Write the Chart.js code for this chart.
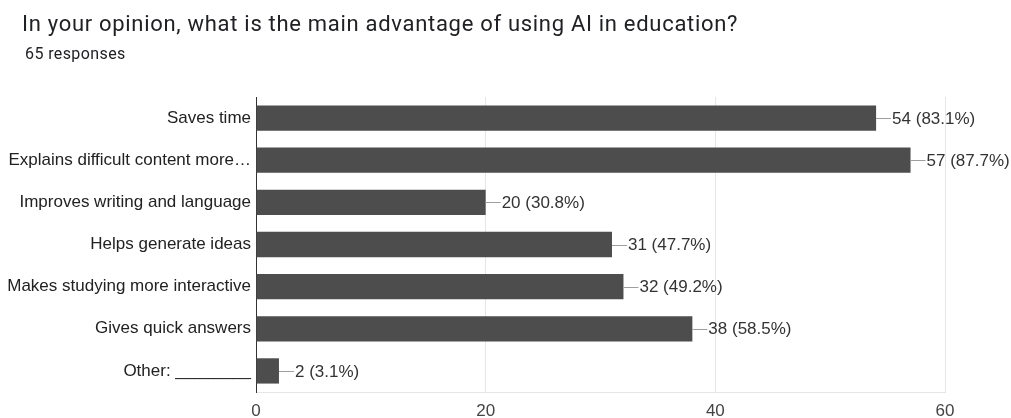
<!DOCTYPE html>
<html>
<head>
<meta charset="utf-8">
<script src="https://cdn.jsdelivr.net/npm/chart.js@4/dist/chart.umd.min.js"></script>
<style>
  html, body { margin: 0; padding: 0; background: #fff; }
  #wrap { position: relative; width: 1011px; height: 418px; overflow: hidden; }
  #title { position: absolute; left: 22px; top: 13px; font: 22px/22px Roboto, sans-serif; letter-spacing: 0.7px; color: #202124; white-space: nowrap; z-index: 2; }
  #sub { position: absolute; left: 25px; top: 46px; font: 16px/16px Roboto, sans-serif; letter-spacing: 0.4px; color: #202124; white-space: nowrap; z-index: 2; }
  canvas { position: absolute; left: 0; top: 0; }
</style>
</head>
<body>
<div id="wrap">
  <div id="title">In your opinion, what is the main advantage of using AI in education?</div>
  <div id="sub">65 responses</div>
  <canvas id="barChart" width="1011" height="418"></canvas>
</div>
<script>
  var categories = [
    'Saves time',
    'Explains difficult content more…',
    'Improves writing and language',
    'Helps generate ideas',
    'Makes studying more interactive',
    'Gives quick answers',
    'Other: ________'
  ];
  var counts = [54, 57, 20, 31, 32, 38, 2];
  var totalResponses = 65;
  var xTicks = [0, 20, 40, 60];

  var fontFamily = '"Liberation Sans", Arial, sans-serif';
  var labelFont = '17px ' + fontFamily;

  // 막대 끝에 짧은 선 + "값 (퍼센트)" 표시
  var valueLabels = {
    id: 'valueLabels',
    afterDatasetsDraw: function (chart) {
      var ctx = chart.ctx;
      var meta = chart.getDatasetMeta(0);
      ctx.save();
      ctx.font = labelFont;
      ctx.textBaseline = 'middle';
      ctx.textAlign = 'left';
      meta.data.forEach(function (bar, i) {
        var v = counts[i];
        var pct = (v / totalResponses * 100).toFixed(1);
        ctx.strokeStyle = '#9e9e9e';
        ctx.lineWidth = 1;
        ctx.beginPath();
        ctx.moveTo(bar.x, Math.round(bar.y) + 0.5);
        ctx.lineTo(bar.x + 15, Math.round(bar.y) + 0.5);
        ctx.stroke();
        ctx.fillStyle = '#333';
        ctx.fillText(v + ' (' + pct + '%)', bar.x + 16, bar.y + 1);
      });
      ctx.restore();
    }
  };

  var ctx = document.getElementById('barChart').getContext('2d');
  var barChart = new Chart(ctx, {
    type: 'bar',
    data: {
      labels: categories,
      datasets: [{
        data: counts,
        backgroundColor: '#4d4d4d',
        borderWidth: 0,
        categoryPercentage: 1,
        barPercentage: 0.6
      }]
    },
    plugins: [valueLabels],
    options: {
      indexAxis: 'y',
      responsive: false,
      animation: false,
      events: [],
      layout: {
        padding: { left: 0, right: 66, top: 97, bottom: 0 }
      },
      plugins: {
        legend: { display: false },
        tooltip: { enabled: false }
      },
      scales: {
        x: {
          min: 0,
          max: 60,
          afterBuildTicks: function (scale) {
            scale.ticks = xTicks.map(function (v) { return { value: v }; });
          },
          afterFit: function (scale) { scale.height = 26; },
          grid: { color: '#e6e6e6', drawTicks: false },
          border: { color: '#e6e6e6' },
          ticks: {
            padding: 9,
            color: '#444',
            font: { family: fontFamily, size: 17 }
          }
        },
        y: {
          afterFit: function (scale) { scale.width = 256; },
          grid: { display: false, drawTicks: false },
          border: { color: '#333', width: 1 },
          ticks: {
            padding: 5,
            color: '#222',
            font: { family: fontFamily, size: 17 }
          }
        }
      }
    }
  });
</script>
</body>
</html>
